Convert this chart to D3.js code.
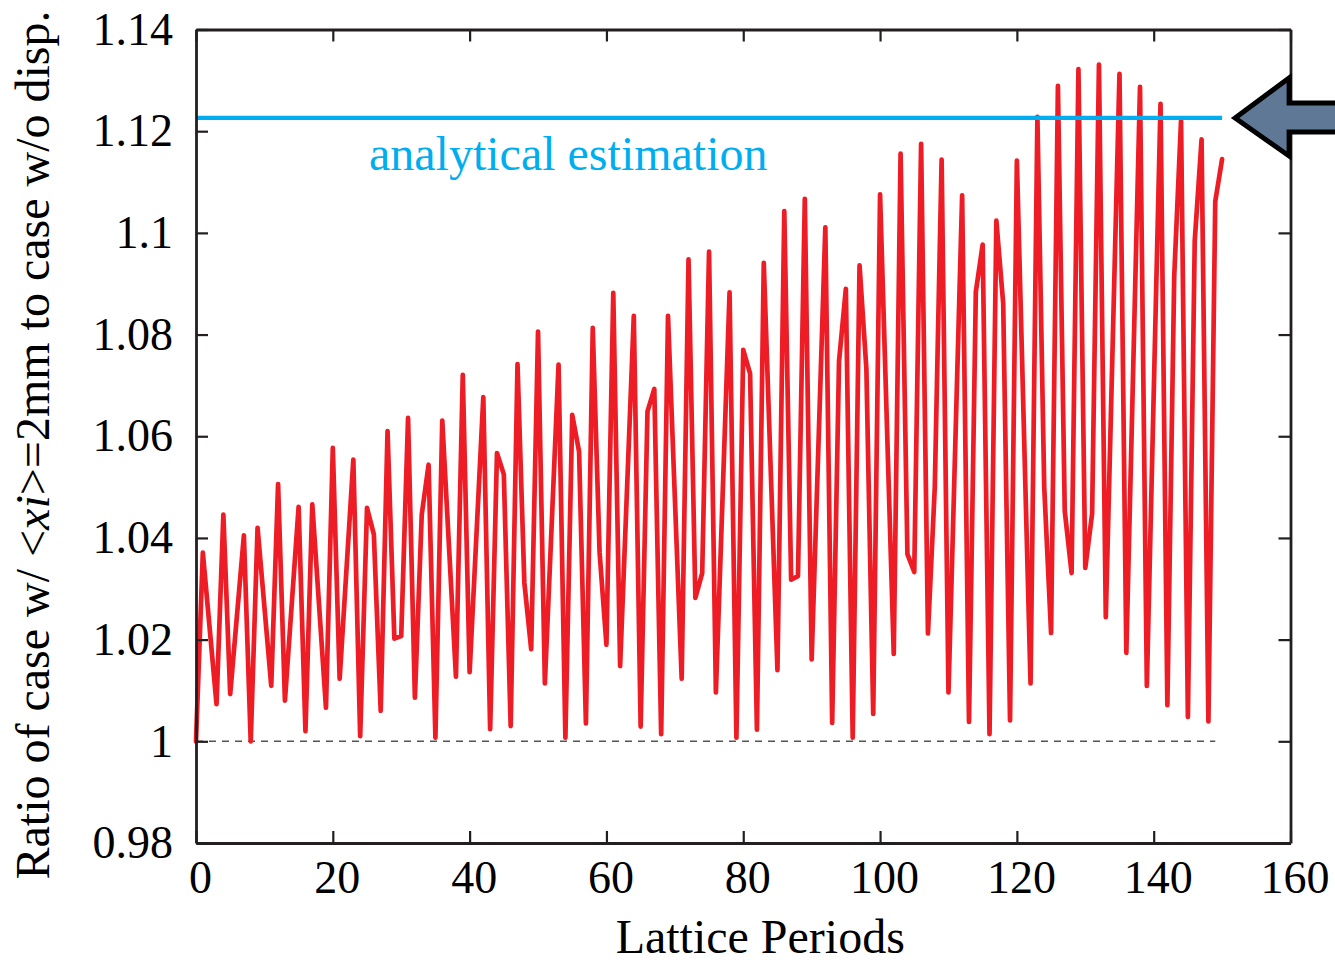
<!DOCTYPE html>
<html lang="en">
  <head>
    <meta charset="utf-8">
    <title>Ratio vs lattice periods</title>
    <script src="https://d3js.org/d3.v7.min.js"></script>
    <style>
      body { margin: 0; background: #fff; }
      text { font-family: "Liberation Serif", "Times New Roman", serif; }
    </style>
  </head>
  <body>
    <script>
    // data (only the vertices of the polyline)
    let periods = [0, 1, 3, 4, 5, 7, 8, 9, 11, 12, 13, 15, 16, 17, 19, 20,
                   21, 23, 24, 25, 26, 27, 28, 29, 30, 31, 32, 33, 34, 35, 36, 38, 39, 40,
                   42, 43, 44, 45, 46, 47, 48, 49, 50, 51, 53, 54, 55, 56, 57, 58, 59, 60,
                   61, 62, 64, 65, 66, 67, 68, 69, 71, 72, 73, 74, 75, 76, 78, 79, 80,
                   81, 82, 83, 85, 86, 87, 88, 89, 90, 92, 93, 94, 95, 96, 97, 98, 99, 100,
                   102, 103, 104, 105, 106, 107, 108, 109, 110, 112, 113, 114, 115, 116, 117, 118, 119, 120,
                   122, 123, 124, 125, 126, 127, 128, 129, 130, 131, 132, 133, 135, 136, 138, 139,
                   141, 142, 143, 144, 145, 146, 147, 148, 149, 150];

    let ratios = [1.000, 1.0371, 1.0073, 1.0446, 1.0093, 1.0405, 1.000, 1.042, 1.0109, 1.0506, 1.008, 1.0461, 1.002, 1.0466, 1.0066, 1.0577,
                  1.0123, 1.0554, 1.001, 1.0459, 1.0407, 1.006, 1.061, 1.0202, 1.0207, 1.0636, 1.0086, 1.0446, 1.0544, 1.0007, 1.0631, 1.0127, 1.0721, 1.0136,
                  1.0677, 1.0024, 1.0567, 1.0525, 1.003, 1.0742, 1.0312, 1.0181, 1.0806, 1.0114, 1.0741, 1.0007, 1.0642, 1.057, 1.0035, 1.0813, 1.0371, 1.019,
                  1.0882, 1.0148, 1.0837, 1.0029, 1.0649, 1.0693, 1.0014, 1.0837, 1.0123, 1.0948, 1.0282, 1.0331, 1.0963, 1.0096, 1.0883, 1.0007, 1.077,
                  1.0723, 1.0023, 1.0941, 1.014, 1.1043, 1.0318, 1.0325, 1.1067, 1.0161, 1.1011, 1.0036, 1.0747, 1.089, 1.0007, 1.0936, 1.0733, 1.0054, 1.1076,
                  1.0172, 1.1156, 1.0368, 1.0333, 1.1175, 1.0212, 1.05, 1.1144, 1.0096, 1.1074, 1.0038, 1.0884, 1.0977, 1.0014, 1.1024, 1.0861, 1.0041, 1.1142,
                  1.0114, 1.1228, 1.05, 1.0213, 1.1289, 1.0453, 1.0331, 1.1322, 1.0341, 1.0448, 1.1331, 1.0244, 1.1313, 1.0174, 1.1287, 1.0109,
                  1.1254, 1.0071, 1.0914, 1.1221, 1.0048, 1.0984, 1.1184, 1.0039, 1.1062, 1.1145];

    let estimate = 1.1226;      // analytical estimation
    let estimateRange = [0, 150];
    let baseline = 1;
    let baselineRange = [0, 149];

    let xTicks = [0, 20, 40, 60, 80, 100, 120, 140, 160];
    let xTickLabels = ["0", "20", "40", "60", "80", "100", "120", "140", "160"];
    let yTicks = [0.98, 1.0, 1.02, 1.04, 1.06, 1.08, 1.1, 1.12, 1.14];
    let yTickLabels = ["0.98", "1", "1.02", "1.04", "1.06", "1.08", "1.1", "1.12", "1.14"];

    let w = 1335;
    let h = 962;
    let mLeft = 196, mRight = 1290.5, mTop = 29.5, mBottom = 843;

    let svg = d3.select("body")
                .append("svg")
                .attr("width", w)
                .attr("height", h);

    let xScale = d3.scaleLinear().domain([0, 160]).range([mLeft, mRight]);
    let yScale = d3.scaleLinear().domain([0.98, 1.14]).range([mBottom, mTop]);

    // dashed line at ratio 1
    svg.append("line")
      .attr("x1", xScale(baselineRange[0]))
      .attr("x2", xScale(baselineRange[1]))
      .attr("y1", yScale(baseline))
      .attr("y2", yScale(baseline))
      .attr("stroke", "#555")
      .attr("stroke-width", 1.5)
      .attr("stroke-dasharray", "7,6");

    // the ratio curve
    let line = d3.line()
      .x((d, i) => xScale(periods[i]))
      .y(d => yScale(d));

    svg.append("path")
      .datum(ratios)
      .attr("d", line)
      .attr("fill", "none")
      .attr("stroke", "#ee1c25")
      .attr("stroke-width", 4.7)
      .attr("stroke-linejoin", "round")
      .attr("stroke-linecap", "round");

    // analytical estimation
    svg.append("line")
      .attr("x1", xScale(estimateRange[0]))
      .attr("x2", xScale(estimateRange[1]))
      .attr("y1", yScale(estimate))
      .attr("y2", yScale(estimate))
      .attr("stroke", "#00aeef")
      .attr("stroke-width", 4.2);

    svg.append("text")
      .attr("x", 369)
      .attr("y", 170)
      .attr("fill", "#00aeef")
      .style("font-size", "48px")
      .text("analytical estimation");

    // axes, ticks pointing inward on all four sides
    let fmtX = d => xTickLabels[xTicks.indexOf(d)];
    let fmtY = d => yTickLabels[yTicks.findIndex(t => Math.abs(t - d) < 1e-9)];

    let gx = svg.append("g")
      .attr("transform", `translate(0,${mBottom})`)
      .call(d3.axisBottom(xScale).tickValues(xTicks).tickFormat(fmtX)
            .tickSizeInner(-12).tickSizeOuter(0).tickPadding(17));
    gx.selectAll("text").attr("dx", 4);

    let gy = svg.append("g")
      .attr("transform", `translate(${mLeft},0)`)
      .call(d3.axisLeft(yScale).tickValues(yTicks).tickFormat(fmtY)
            .tickSizeInner(-12).tickSizeOuter(0).tickPadding(23));

    svg.append("g")
      .attr("transform", `translate(0,${mTop})`)
      .call(d3.axisTop(xScale).tickValues(xTicks).tickFormat("")
            .tickSizeInner(-12).tickSizeOuter(0));

    svg.append("g")
      .attr("transform", `translate(${mRight},0)`)
      .call(d3.axisRight(yScale).tickValues(yTicks).tickFormat("")
            .tickSizeInner(-12).tickSizeOuter(0));

    svg.selectAll(".domain").attr("stroke", "#231f20").attr("stroke-width", 2.8);
    svg.selectAll(".tick line").attr("stroke", "#231f20").attr("stroke-width", 2.2);
    svg.selectAll(".tick text")
      .attr("fill", "#000")
      .style("font-family", "'Liberation Serif', 'Times New Roman', serif")
      .style("font-size", "46px");

    // axis titles
    svg.append("text")
      .attr("x", (mLeft + mRight) / 2 + 17)
      .attr("y", 953)
      .attr("text-anchor", "middle")
      .style("font-size", "48px")
      .text("Lattice Periods");

    let yl = svg.append("text")
      .attr("transform", "translate(49,445) rotate(-90)")
      .attr("text-anchor", "middle")
      .style("font-size", "48px");
    yl.append("tspan").text("Ratio of case w/ <");
    yl.append("tspan").style("font-style", "italic").text("xi");
    yl.append("tspan").text(">=2mm to case w/o disp.");

    // arrow pointing at the estimate
    let ay = yScale(estimate);
    let ax = xScale(150) + 13;
    let arrow = [[ax, ay], [ax + 54, ay - 40], [ax + 54, ay - 15], [w + 10, ay - 15],
                 [w + 10, ay + 14], [ax + 54, ay + 14], [ax + 54, ay + 38]];
    svg.append("polygon")
      .attr("points", arrow.map(p => p.join(",")).join(" "))
      .attr("fill", "#5f7896")
      .attr("stroke", "#000")
      .attr("stroke-width", 5)
      .attr("stroke-linejoin", "miter");
    </script>
  </body>
</html>
